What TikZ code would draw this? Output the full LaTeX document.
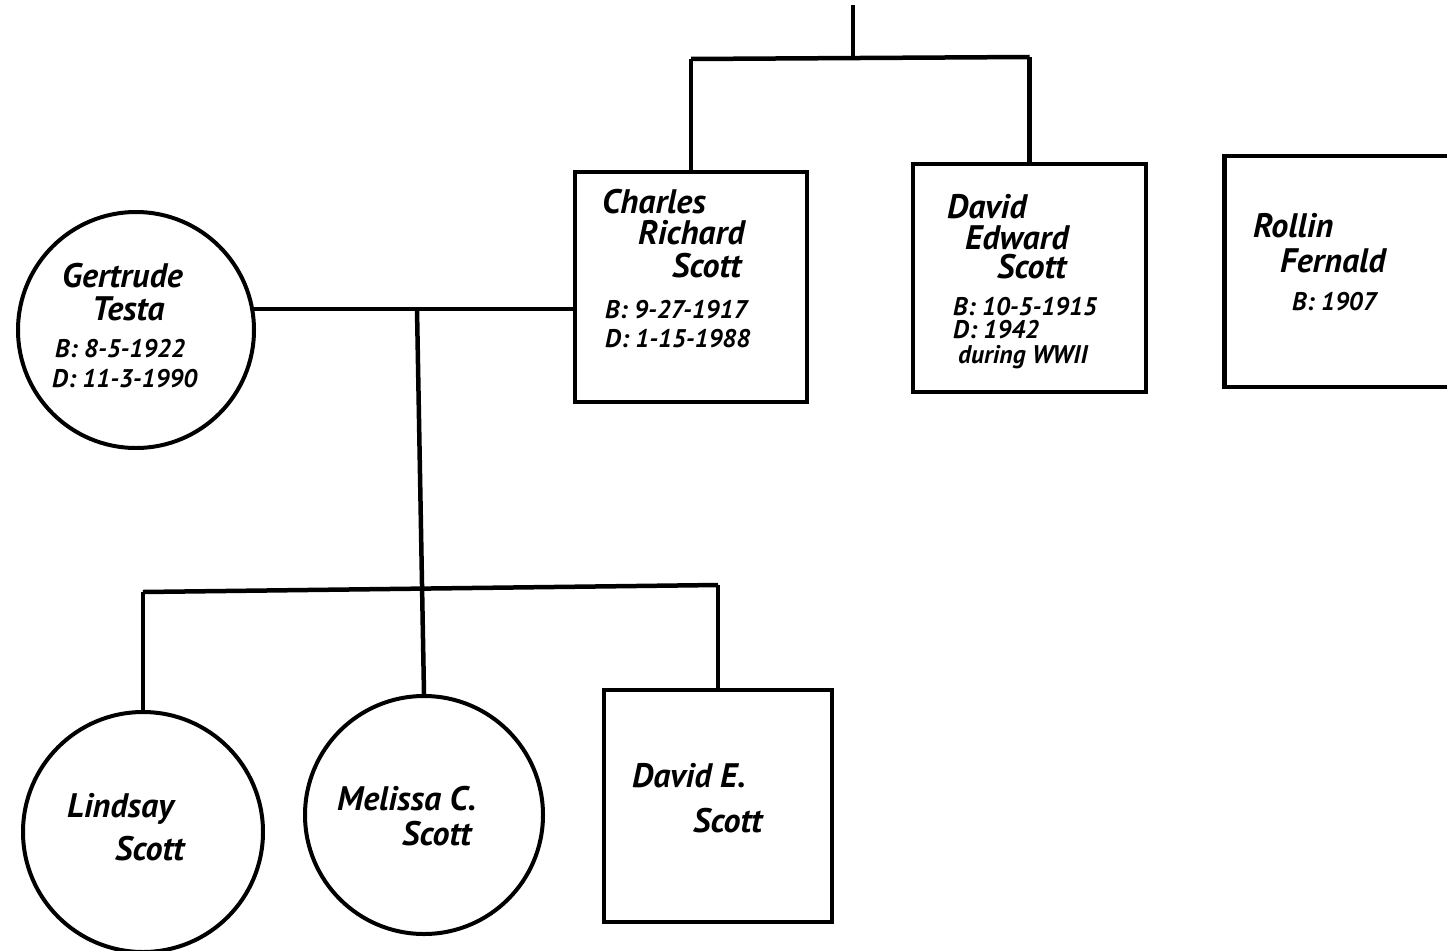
\documentclass[tikz,border=0pt]{standalone}
\usepackage{fontspec}
\setmainfont{PT Sans}
\newcommand\tline[4]{\node[txtline] (#1) at (#2,#3) {#4};}
\newcommand\datesize{\fontsize{25.5}{28}\selectfont}
\begin{document}
\begin{tikzpicture}[x=1pt,y=-1pt,
  txtline/.style={anchor=base west,inner sep=0pt,font=\bfseries\itshape\fontsize{34}{36}\selectfont},
  male/.style={draw,line width=4.5pt,rectangle,inner sep=0pt},
  female/.style={draw,line width=4pt,circle,inner sep=0pt},
  conn/.style={line width=4.5pt}]
\useasboundingbox (0,0) rectangle (1447,950);
% people
\node[male,minimum width=232pt,minimum height=230pt] (charles) at (691,287) {};
\node[male,minimum width=233pt,minimum height=228pt] (uncle) at (1029.5,278) {};
\node[male,minimum width=235pt,minimum height=231pt] (rollin) at (1342,271.5) {};
\node[female,minimum size=236pt] (gertrude) at (136,330) {};
\node[female,minimum size=240pt] (lindsay) at (143,832) {};
\node[female,minimum size=238pt] (melissa) at (424,815) {};
\node[male,minimum width=228pt,minimum height=232pt] (davidj) at (718,806) {};
% connectors
\coordinate (top) at (853,5);
\coordinate (tj) at (853,58);
\coordinate (sl) at (691,59);
\coordinate (sr) at (1029.5,57);
\draw[conn] (top) -- (tj);
\draw[conn] (sl) -- (sr);
\draw[conn] (sl) -- (charles.north);
\draw[conn] (sr) -- (uncle.north);
\draw[conn] (gertrude.10) -- (gertrude.10 -| charles.west);
\coordinate (mj) at (417,309);
\draw[conn] (mj) -- (melissa.north);
\coordinate (cl) at (143,592);
\coordinate (cr) at (718,585);
\draw[conn] (cl) -- (cr);
\draw[conn] (cl) -- (lindsay.north);
\draw[conn] (cr) -- (davidj.north);
% texts
\tline{t1}{602}{213}{Charles}
\tline{t2}{638}{244}{Richard}
\tline{t3}{672}{277}{Scott}
\tline{t4}{605}{318}{\datesize B: 9-27-1917}
\tline{t5}{605}{347}{\datesize D: 1-15-1988}
\tline{u1}{947}{218}{David}
\tline{u2}{965}{249}{Edward}
\tline{u3}{997}{278}{Scott}
\tline{u4}{953}{315}{\datesize B: 10-5-1915}
\tline{u5}{953}{338}{\datesize D: 1942}
\tline{u6}{958}{363}{\datesize during WWII}
\tline{r1}{1253}{237}{Rollin}
\tline{r2}{1280}{272}{Fernald}
\tline{r3}{1292}{310}{\datesize B: 1907}
\tline{g1}{62}{287}{Gertrude}
\tline{g2}{92}{320}{Testa}
\tline{g3}{55}{357}{\datesize B: 8-5-1922}
\tline{g4}{52}{387}{\datesize D: 11-3-1990}
\tline{l1}{67}{817}{Lindsay}
\tline{l2}{115}{860}{Scott}
\tline{m1}{337}{810}{Melissa C.}
\tline{m2}{402}{845}{Scott}
\tline{d1}{632}{787}{David E.}
\tline{d2}{693}{832}{Scott}
\end{tikzpicture}
\end{document}
